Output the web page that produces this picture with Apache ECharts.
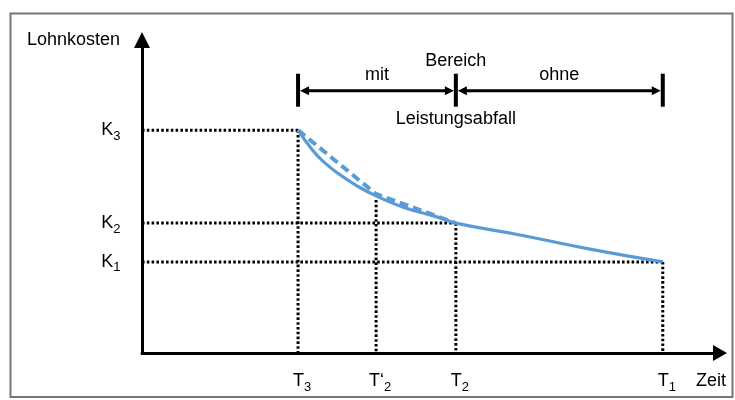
<!DOCTYPE html>
<html><head><meta charset="utf-8">
<script src="https://cdn.jsdelivr.net/npm/echarts@6/dist/echarts.min.js"></script>
<style>html,body{margin:0;padding:0;background:#fff}#c{width:735px;height:400px}</style>
</head><body><div id="c"></div>
<script>
// ---- data (arbitrary units: x 0..100 time, y 0..100 cost) ----
const timeValues = [27.0, 40.5, 54.3, 90.1];           // T3, T'2, T2, T1
const timeLabels = ['{a|T}{s|3}', '{a|T\u2018}{s|2}', '{a|T}{s|2}', '{a|T}{s|1}'];
const costValues = [71.2, 41.5, 29.1];                 // K3, K2, K1
const costLabels = ['{a|K}{s|3}', '{a|K}{s|2}', '{a|K}{s|1}'];
const costGuideTimeIndex = [0, 2, 3];                  // horizontal guide of each K ends at this T
const timeGuideTop = [71.2, 48.9, 41.5, 29.1];         // vertical guide of each T starts here
const solidX = [27.0, 29.1, 31.3, 34.3, 37.2, 40.5, 45.2, 51.0, 54.3, 65.4, 77.5, 90.1];
const solidY = [71.2, 65.8, 61.3, 56.9, 53.4, 50.2, 46.6, 43.5, 41.5, 37.7, 33.2, 29.1];
const dashedX = [27.0, 40.5, 54.3];
const dashedY = [71.2, 50.8, 41.5];
const bracketLevel = 83.8;
const bracketSegments = [[0, 2, 'mit'], [2, 3, 'ohne']]; // from T index, to T index, label
const bracketTicks = [0, 2, 3];
const tickTopLabels = ['', 'Bereich', ''];
const tickBottomLabels = ['', 'Leistungsabfall', ''];
const axisNames = ['Zeit', 'Lohnkosten'];

const FONT = '"Liberation Sans", Arial, sans-serif';
const BLUE = '#5b9bd5';
const rich = {
  a: {fontSize: 18, lineHeight: 20, fontFamily: FONT, color: '#000'},
  s: {fontSize: 13, lineHeight: 20, fontFamily: FONT, color: '#000', padding: [12, 0, 0, 0]}
};
const dotted = {color: '#000', width: 3, type: [2.6, 2.2], cap: 'butt'};
const hiddenPoint = {color: 'rgba(0,0,0,0)', opacity: 1};

const series = [];
// horizontal guides
costValues.forEach((k, i) => {
  series.push({type: 'line', silent: true, symbol: 'none', z: 1, lineStyle: dotted,
    data: [[0, k], [timeValues[costGuideTimeIndex[i]], k]]});
});
// vertical guides
timeValues.forEach((t, i) => {
  series.push({type: 'line', silent: true, symbol: 'none', z: 1, lineStyle: dotted,
    data: [[t, timeGuideTop[i]], [t, 0]]});
});
// curves
series.push({type: 'line', silent: true, symbol: 'none', z: 4, smooth: 0.5,
  lineStyle: {color: BLUE, width: 3.2}, data: solidX.map((x, i) => [x, solidY[i]])});
series.push({type: 'line', silent: true, symbol: 'none', z: 3,
  lineStyle: {color: BLUE, width: 4, type: [9, 5]}, data: dashedX.map((x, i) => [x, dashedY[i]])});
// K labels
series.push({type: 'scatter', silent: true, symbolSize: 1, z: 5, itemStyle: hiddenPoint,
  label: {show: true, position: 'left', distance: 21, color: '#000', rich: rich, formatter: p => costLabels[p.dataIndex]},
  data: costValues.map(k => [0, k])});
// T labels
series.push({type: 'scatter', silent: true, symbolSize: 1, z: 5, itemStyle: hiddenPoint,
  label: {show: true, position: 'bottom', distance: 18, offset: [4, 0], color: '#000', rich: rich, formatter: p => timeLabels[p.dataIndex]},
  data: timeValues.map(t => [t, 0])});
// bracket arrows
series.push({type: 'custom', silent: true, z: 5,
  data: bracketSegments.map(s => [timeValues[s[0]], timeValues[s[1]], bracketLevel]),
  renderItem: function (params, api) {
    const p1 = api.coord([api.value(0), api.value(2)]);
    const p2 = api.coord([api.value(1), api.value(2)]);
    const y = p1[1], l = p1[0] + 2, r = p2[0] - 2, aL = 9, aW = 4.5;
    return {type: 'group', children: [
      {type: 'line', shape: {x1: l + aL - 1, y1: y, x2: r - aL + 1, y2: y}, style: {stroke: '#000', lineWidth: 3}},
      {type: 'polygon', shape: {points: [[l, y], [l + aL, y - aW], [l + aL, y + aW]]}, style: {fill: '#000'}},
      {type: 'polygon', shape: {points: [[r, y], [r - aL, y - aW], [r - aL, y + aW]]}, style: {fill: '#000'}},
      {type: 'text', style: {text: bracketSegments[params.dataIndex][2], x: (p1[0] + p2[0]) / 2, y: y - 16,
        align: 'center', verticalAlign: 'middle', font: '18px ' + FONT, fill: '#000'}}
    ]};
  }});
// bracket ticks + centre labels
series.push({type: 'custom', silent: true, z: 5,
  data: bracketTicks.map(i => [timeValues[i], bracketLevel]),
  renderItem: function (params, api) {
    const p = api.coord([api.value(0), api.value(1)]);
    const i = params.dataIndex;
    return {type: 'group', children: [
      {type: 'rect', shape: {x: p[0] - 2, y: p[1] - 17, width: 4, height: 33}, style: {fill: '#000'}},
      {type: 'text', style: {text: tickTopLabels[i], x: p[0], y: p[1] - 30, align: 'center', verticalAlign: 'middle', font: '18px ' + FONT, fill: '#000'}},
      {type: 'text', style: {text: tickBottomLabels[i], x: p[0], y: p[1] + 28, align: 'center', verticalAlign: 'middle', font: '18px ' + FONT, fill: '#000'}}
    ]};
  }});

const chart = echarts.init(document.getElementById('c'), null, {renderer: 'canvas'});
chart.setOption({
  animation: false,
  backgroundColor: '#fff',
  textStyle: {fontFamily: FONT},
  grid: {left: 142, right: 15, top: 40, bottom: 47, containLabel: false},
  xAxis: {type: 'value', min: 0, max: 100,
    axisLine: {show: true, symbol: ['none', 'triangle'], symbolSize: [16, 14], lineStyle: {color: '#000', width: 3}},
    axisTick: {show: false}, axisLabel: {show: false}, splitLine: {show: false},
    name: axisNames[0], nameLocation: 'end', nameGap: -24,
    nameTextStyle: {fontSize: 18, fontFamily: FONT, color: '#000', align: 'left', verticalAlign: 'top', lineHeight: 20, padding: [18, 0, 0, 0]}},
  yAxis: {type: 'value', min: 0, max: 100,
    axisLine: {show: true, symbol: ['none', 'triangle'], symbolSize: [16, 16], lineStyle: {color: '#000', width: 3}},
    axisTick: {show: false}, axisLabel: {show: false}, splitLine: {show: false},
    name: axisNames[1], nameLocation: 'end', nameGap: 0,
    nameTextStyle: {fontSize: 18, fontFamily: FONT, color: '#000', align: 'right', verticalAlign: 'middle', lineHeight: 20, padding: [0, 22, 0, 0]}},
  graphic: [{type: 'rect', silent: true, z: 100, shape: {x: 10.5, y: 13.5, width: 722, height: 383.5},
    style: {fill: 'none', stroke: '#767676', lineWidth: 2}}],
  series: series
});
</script>
</body></html>
